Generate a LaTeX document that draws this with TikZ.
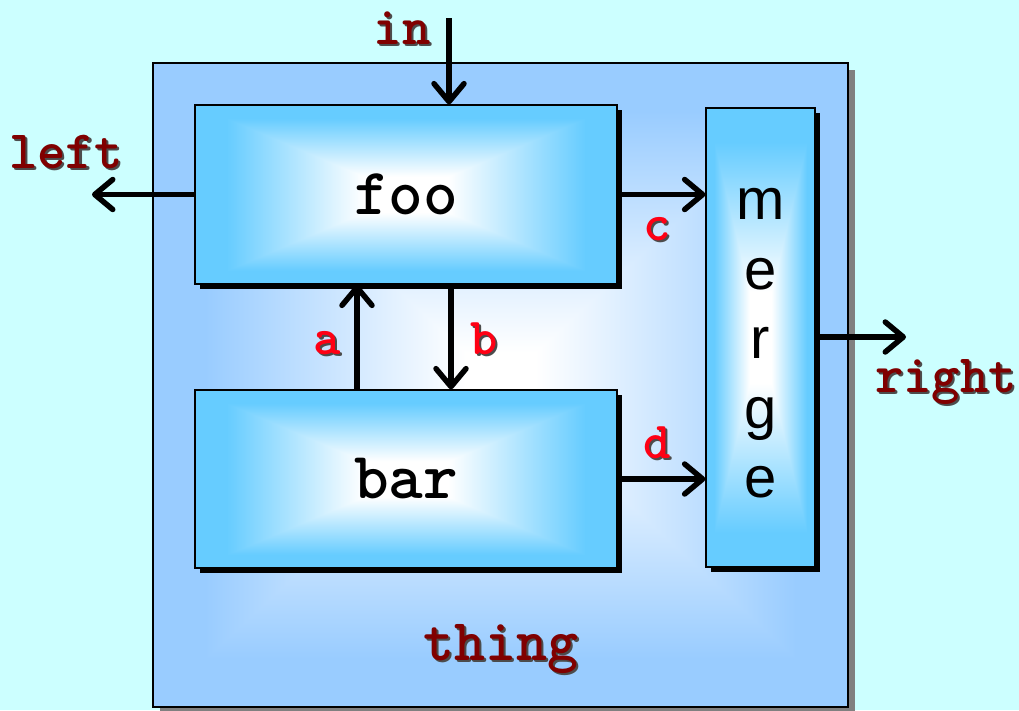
\documentclass[tikz,border=0pt]{standalone}
\usepackage{fontspec}
\usepackage{tikz}
\usetikzlibrary{arrows.meta,shadows,calc}

\newfontfamily\codefont{Latin Modern Mono Light}
\newfontfamily\plainfont{Liberation Sans}

\definecolor{sky}{RGB}{204,255,255}
\definecolor{wine}{RGB}{128,0,0}
\definecolor{signal}{RGB}{255,0,20}

% rectangular glow, white centre
\pgfdeclarefunctionalshading{innerglow}{\pgfpoint{-25bp}{-25bp}}{\pgfpoint{25bp}{25bp}}{}{
  abs exch abs 2 copy lt {exch} if pop 25 div
  0.2 sub 0.65 div dup 0 lt {pop 0} if dup 1 gt {pop 1} if
  dup 0.6 mul 1 exch sub exch 0.2 mul 1 exch sub 1
}
\pgfdeclarefunctionalshading{outerglow}{\pgfpoint{-25bp}{-25bp}}{\pgfpoint{25bp}{25bp}}{}{
  abs exch abs 2 copy lt {exch} if pop 25 div
  0.1 sub 0.75 div dup 0 lt {pop 0} if dup 1 gt {pop 1} if
  dup 0.4 mul 1 exch sub exch 0.2 mul 1 exch sub 1
}

\newcommand{\castlabel}[5][54]{% size, name, position, colour, text
  \node[lbl,text=black!70,font=\codefont\bfseries\fontsize{#1}{#1}\selectfont]
    (#2-sh) at ($(#3)+(2,2)$) {#5};
  \node[lbl,text=#4,font=\codefont\bfseries\fontsize{#1}{#1}\selectfont]
    (#2) at (#3) {#5};}

\begin{document}
\begin{tikzpicture}[x=1pt,y=-1pt,
  lbl/.style={anchor=base,inner sep=0pt},
  box/.style={draw=black,line width=1.2pt,shading=innerglow,inner sep=0pt,
    font=\codefont\bfseries\fontsize{66}{66}\selectfont,
    drop shadow={shadow xshift=5pt,shadow yshift=-5pt,fill=black,opacity=1}},
  thingbox/.style={draw=black,line width=1.2pt,shading=outerglow,inner sep=0pt,
    drop shadow={shadow xshift=7pt,shadow yshift=-7pt,fill=black!50,opacity=1}},
  flow/.style={line width=5.5pt,-{Straight Barb[round,length=18pt,width=30pt]}}]
\fill[sky] (0,0) rectangle (1019,710);
\useasboundingbox (0,0) rectangle (1019,710);

\node[thingbox,minimum width=695pt,minimum height=644pt] (thing) at (500.5,385) {};
\node[box,minimum width=422pt,minimum height=179pt] (foo) at (406,194.5) {foo};
\node[box,minimum width=422pt,minimum height=178pt] (bar) at (406,479) {bar};
\node[box,minimum width=109pt,minimum height=459pt] (merge) at (760.5,337.5) {};
\node[align=center,inner sep=0pt,font=\plainfont\fontsize{58}{69.5}\selectfont]
  (mergeTxt) at ($(merge.center)+(0,6)$) {m\\e\\r\\g\\e};

\coordinate (inTop) at (449,18);
\coordinate (leftEnd) at (92,194.5);
\coordinate (rightEnd) at (906,337);
\coordinate (aX) at (357,0);
\coordinate (bX) at (451,0);

\draw[flow] (inTop) -- (inTop |- foo.north);
\draw[flow] (foo.west) -- (leftEnd);
\draw[flow] (foo.east) -- (foo.east -| merge.west);
\draw[flow] (bar.east) -- (bar.east -| merge.west);
\draw[flow] (aX |- bar.north) -- (aX |- foo.south);
\draw[flow] (bX |- foo.south) -- (bX |- bar.north);
\draw[flow] (merge.east |- rightEnd) -- (rightEnd);

\castlabel{inLbl}{402,44}{wine}{in}
\castlabel{leftLbl}{66,168}{wine}{left}
\castlabel{rightLbl}{946,392}{wine}{right}
\castlabel[59]{thingLbl}{501,660}{wine}{thing}
\castlabel[52]{aLbl}{327,354}{signal}{a}
\castlabel[52]{bLbl}{484,354}{signal}{b}
\castlabel[52]{cLbl}{657,240}{signal}{c}
\castlabel[52]{dLbl}{657,458}{signal}{d}
\end{tikzpicture}
\end{document}
